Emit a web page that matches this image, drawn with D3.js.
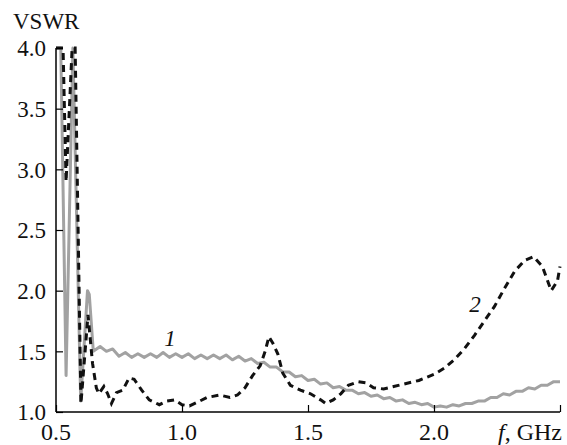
<!DOCTYPE html>
<html>
<head>
<meta charset="utf-8">
<script src="https://cdn.jsdelivr.net/npm/d3@7"></script>
<style>
    body { margin: 0; background: #fff; }
    svg text { font-family: "Liberation Serif", "Times New Roman", serif; fill: #111; }
</style>
</head>
<body>
<div id="chart"></div>
<script>
// curve 1 (gray, solid): frequency in GHz and VSWR
var freq1 = [0.500, 0.519, 0.540, 0.567, 0.598, 0.625, 0.632, 0.648,
    0.675, 0.700, 0.725, 0.750, 0.775, 0.800, 0.825, 0.850, 0.875, 0.900,
    0.925, 0.950, 0.975, 1.000, 1.025, 1.050, 1.075, 1.100, 1.125, 1.150,
    1.175, 1.200, 1.225, 1.250, 1.275, 1.300, 1.325, 1.350, 1.375, 1.400,
    1.425, 1.450, 1.475, 1.500, 1.525, 1.550, 1.575, 1.600, 1.625, 1.650,
    1.675, 1.700, 1.725, 1.750, 1.775, 1.800, 1.825, 1.850, 1.875, 1.900,
    1.925, 1.950, 1.975, 2.000, 2.025, 2.050, 2.075, 2.100, 2.125, 2.150,
    2.175, 2.200, 2.225, 2.250, 2.275, 2.300, 2.325, 2.350, 2.375, 2.400,
    2.425, 2.450, 2.475, 2.500]
var vswr1 = [4.00, 4.00, 1.30, 4.00, 1.09, 2.00, 1.97, 1.50,
    1.54, 1.50, 1.52, 1.46, 1.49, 1.45, 1.48, 1.45, 1.48, 1.45,
    1.49, 1.45, 1.48, 1.45, 1.48, 1.44, 1.47, 1.44, 1.47, 1.44,
    1.47, 1.43, 1.46, 1.42, 1.44, 1.40, 1.41, 1.37, 1.37, 1.33,
    1.33, 1.29, 1.30, 1.26, 1.27, 1.23, 1.24, 1.20, 1.21, 1.18,
    1.18, 1.15, 1.16, 1.13, 1.14, 1.11, 1.12, 1.09, 1.10, 1.07,
    1.08, 1.06, 1.07, 1.04, 1.05, 1.04, 1.06, 1.05, 1.07, 1.07,
    1.09, 1.09, 1.12, 1.12, 1.15, 1.14, 1.17, 1.17, 1.20, 1.19,
    1.22, 1.22, 1.25, 1.25]

// curve 2 (black, dashed)
var freq2 = [0.500, 0.528, 0.540, 0.564, 0.576, 0.599, 0.627, 0.645, 0.660,
    0.670, 0.690, 0.705, 0.720, 0.740, 0.765, 0.790, 0.810, 0.840, 0.870,
    0.910, 0.940, 0.970, 1.000, 1.030, 1.060, 1.100, 1.150, 1.190, 1.220,
    1.250, 1.280, 1.310, 1.330, 1.345, 1.360, 1.380, 1.400, 1.430, 1.470,
    1.510, 1.550, 1.570, 1.600, 1.630, 1.660, 1.700, 1.730, 1.760, 1.800,
    1.840, 1.880, 1.940, 2.000, 2.040, 2.080, 2.120, 2.160, 2.200, 2.240,
    2.280, 2.320, 2.360, 2.395, 2.430, 2.465, 2.490, 2.500]
var vswr2 = [4.00, 4.00, 2.90, 4.00, 4.00, 1.07, 1.80, 1.40, 1.20,
    1.15, 1.21, 1.15, 1.07, 1.16, 1.18, 1.28, 1.27, 1.18, 1.10,
    1.06, 1.09, 1.10, 1.06, 1.05, 1.08, 1.12, 1.14, 1.12, 1.14,
    1.20, 1.30, 1.38, 1.50, 1.62, 1.57, 1.48, 1.32, 1.22, 1.18,
    1.15, 1.10, 1.07, 1.10, 1.15, 1.22, 1.25, 1.24, 1.20, 1.19,
    1.21, 1.23, 1.26, 1.31, 1.36, 1.43, 1.52, 1.63, 1.75, 1.87,
    2.02, 2.16, 2.25, 2.28, 2.20, 2.00, 2.08, 2.20]

var xTicks = [0.5, 1.0, 1.5, 2.0, 2.5]
var xTickLabels = ["0.5", "1.0", "1.5", "2.0", ""]
var yTicks = [1.0, 1.5, 2.0, 2.5, 3.0, 3.5, 4.0]

var width = 567, height = 445
var plotLeft = 56, plotRight = 560, plotTop = 48, plotBottom = 412

var svg = d3.select("#chart").append("svg")
    .attr("width", width)
    .attr("height", height)

var x = d3.scaleLinear().domain([0.5, 2.5]).range([plotLeft, plotRight])
var y = d3.scaleLinear().domain([1.0, 4.0]).range([plotBottom, plotTop])

svg.append("defs").append("clipPath").attr("id", "plotclip")
    .append("rect")
    .attr("x", plotLeft).attr("y", plotTop - 2)
    .attr("width", plotRight - plotLeft + 2).attr("height", plotBottom - plotTop + 2)

var line = d3.line()
    .x(d => x(d[0]))
    .y(d => y(d[1]))

var series1 = freq1.map((f, i) => [f, vswr1[i]])
var series2 = freq2.map((f, i) => [f, vswr2[i]])

var plot = svg.append("g").attr("clip-path", "url(#plotclip)")

plot.append("path")
    .datum(series1)
    .attr("d", line)
    .attr("fill", "none")
    .attr("stroke", "#a2a2a2")
    .attr("stroke-width", 3)
    .attr("stroke-linejoin", "round")

plot.append("path")
    .datum(series2)
    .attr("d", line)
    .attr("fill", "none")
    .attr("stroke", "#111")
    .attr("stroke-width", 3)
    .attr("stroke-dasharray", "7,5")

// axes, ticks pointing inward
var xAxis = svg.append("g")
    .attr("transform", "translate(0," + plotBottom + ")")
    .call(d3.axisTop(x).tickValues(xTicks).tickSize(7).tickFormat(""))
xAxis.select(".domain").attr("d", "M" + plotLeft + ",0H" + plotRight).attr("stroke-width", 1.5)
xAxis.selectAll(".tick line").attr("stroke-width", 1.2)

var yAxis = svg.append("g")
    .attr("transform", "translate(" + plotLeft + ",0)")
    .call(d3.axisRight(y).tickValues(yTicks).tickSize(7).tickFormat(""))
yAxis.select(".domain").attr("d", "M0," + plotTop + "V" + plotBottom).attr("stroke-width", 1.5)
yAxis.selectAll(".tick line").attr("stroke-width", 1.2)

// tick labels
svg.selectAll(".ylab")
    .data(yTicks)
    .enter().append("text")
    .attr("class", "ylab")
    .attr("x", plotLeft - 10)
    .attr("y", d => y(d))
    .attr("dy", "0.36em")
    .attr("text-anchor", "end")
    .style("font-size", "23px")
    .text(d => d.toFixed(1))

svg.selectAll(".xlab")
    .data(xTicks)
    .enter().append("text")
    .attr("class", "xlab")
    .attr("x", d => x(d))
    .attr("y", 440)
    .attr("text-anchor", "middle")
    .style("font-size", "24px")
    .text((d, i) => xTickLabels[i])

svg.append("text")
    .attr("x", 13)
    .attr("y", 29)
    .style("font-size", "23px")
    .text("VSWR")

var xTitle = svg.append("text")
    .attr("x", 562)
    .attr("y", 440)
    .attr("text-anchor", "end")
    .style("font-size", "24px")
xTitle.append("tspan").style("font-style", "italic").text("f")
xTitle.append("tspan").text(", GHz")

// curve labels
svg.append("text")
    .attr("x", 170)
    .attr("y", 346)
    .attr("text-anchor", "middle")
    .style("font-size", "23px")
    .style("font-style", "italic")
    .text("1")

svg.append("text")
    .attr("x", 475)
    .attr("y", 312)
    .attr("text-anchor", "middle")
    .style("font-size", "23px")
    .style("font-style", "italic")
    .text("2")
</script>
</body>
</html>
